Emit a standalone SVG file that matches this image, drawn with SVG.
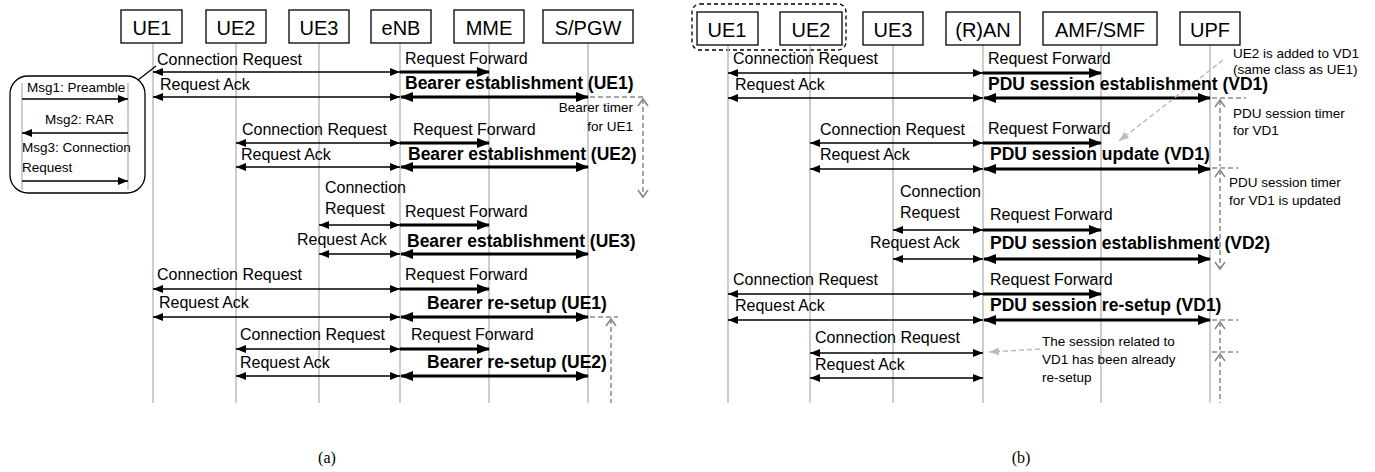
<svg xmlns="http://www.w3.org/2000/svg" width="1375" height="472" viewBox="0 0 1375 472">
<style>
.bg{fill:#fff}
.box{fill:#fff;stroke:#000;stroke-width:1.3}
.life{stroke:#bdbdbd;stroke-width:1.5}
.thin{stroke:#000;stroke-width:1.7;fill:none;marker-start:url(#ah);marker-end:url(#ah)}
.one{stroke:#000;stroke-width:1.6;fill:none;marker-end:url(#ah)}
.fw{stroke:#000;stroke-width:3;fill:none;marker-end:url(#ahb)}
.thick{stroke:#000;stroke-width:3;fill:none;marker-start:url(#ahb);marker-end:url(#ahb)}
.dash{stroke:#8a8a8a;stroke-width:1.5;stroke-dasharray:5 3;fill:none}
.up{marker-start:url(#chev)}
.both{marker-start:url(#chev);marker-end:url(#chev)}
.note{stroke:#bdbdbd;stroke-width:1.5;stroke-dasharray:5 3;fill:none;marker-end:url(#gah)}
.t{font-family:"Liberation Sans",Arial,sans-serif;font-size:16px;fill:#000}
.b{font-weight:bold;font-size:17.5px}
.s{font-size:13.5px}
.n{font-size:20px;text-anchor:middle}
.e{text-anchor:end}
.cap{font-family:"Liberation Serif","Times New Roman",serif;font-size:16px;text-anchor:middle}
</style>
<defs>
<marker id="ah" markerUnits="userSpaceOnUse" markerWidth="10" markerHeight="8" refX="10" refY="4" orient="auto-start-reverse"><path d="M0,0 L10,4 L0,8 z" fill="#000"/></marker>
<marker id="ahb" markerUnits="userSpaceOnUse" markerWidth="13" markerHeight="10" refX="12" refY="5" orient="auto-start-reverse"><path d="M0,0 L13,5 L0,10 z" fill="#000"/></marker>
<marker id="gah" markerUnits="userSpaceOnUse" markerWidth="10" markerHeight="8" refX="10" refY="4" orient="auto"><path d="M0,0 L10,4 L0,8 z" fill="#bdbdbd"/></marker>
<marker id="chev" markerUnits="userSpaceOnUse" markerWidth="12" markerHeight="12" refX="8" refY="6" orient="auto-start-reverse" overflow="visible"><path d="M1,1 L8,6 L1,11" fill="none" stroke="#8a8a8a" stroke-width="1.6"/></marker>
</defs>
<rect class="bg" x="0" y="0" width="1375" height="472"/>

<!-- Panel (a) participants -->
<g id="a-ue1"><line class="life" x1="153" y1="43" x2="153" y2="403"/><rect class="box" x="121" y="10" width="61" height="33"/><text class="t n" x="152" y="35">UE1</text></g>
<g id="a-ue2"><line class="life" x1="236" y1="43" x2="236" y2="403"/><rect class="box" x="206" y="10" width="60" height="33"/><text class="t n" x="236" y="35">UE2</text></g>
<g id="a-ue3"><line class="life" x1="319" y1="43" x2="319" y2="403"/><rect class="box" x="289" y="10" width="60" height="33"/><text class="t n" x="319" y="35">UE3</text></g>
<g id="a-enb"><line class="life" x1="400" y1="43" x2="400" y2="403"/><rect class="box" x="371" y="10" width="60" height="33"/><text class="t n" x="401" y="35">eNB</text></g>
<g id="a-mme"><line class="life" x1="489" y1="43" x2="489" y2="403"/><rect class="box" x="454" y="10" width="70" height="33"/><text class="t n" x="489" y="35">MME</text></g>
<g id="a-spgw"><line class="life" x1="588" y1="43" x2="588" y2="403"/><rect class="box" x="543" y="10" width="90" height="33"/><text class="t n" x="588" y="35">S/PGW</text></g>

<!-- RACH inset -->
<g id="a-rach">
<rect x="10" y="76" width="135" height="117" rx="18" fill="#fff" stroke="#000" stroke-width="1.3"/>
<line x1="138" y1="80" x2="156" y2="66" stroke="#000" stroke-width="1.2"/>
<line class="life" x1="22" y1="83" x2="22" y2="190"/>
<line class="life" x1="128" y1="83" x2="128" y2="190"/>
<text class="t s" x="27" y="92">Msg1: Preamble</text>
<line class="one" x1="22" y1="99" x2="128" y2="99"/>
<text class="t s" x="45" y="124">Msg2: RAR</text>
<line class="one" x1="128" y1="133" x2="22" y2="133"/>
<text class="t s" x="22" y="152">Msg3: Connection</text>
<text class="t s" x="22" y="172">Request</text>
<line class="one" x1="22" y1="181" x2="128" y2="181"/>
</g>

<!-- Panel (a) connectors -->
<g id="a-connectors">
<line class="thin" x1="153" y1="72" x2="400" y2="72"/><line class="fw" x1="400" y1="72" x2="489" y2="72"/>
<line class="thin" x1="153" y1="97" x2="400" y2="97"/><line class="thick" x1="401" y1="97" x2="588" y2="97"/>
<line class="thin" x1="236" y1="143" x2="400" y2="143"/><line class="fw" x1="400" y1="143" x2="489" y2="143"/>
<line class="thin" x1="236" y1="167" x2="400" y2="167"/><line class="thick" x1="401" y1="167" x2="588" y2="167"/>
<line class="thin" x1="319" y1="225" x2="400" y2="225"/><line class="fw" x1="400" y1="225" x2="489" y2="225"/>
<line class="thin" x1="319" y1="254" x2="400" y2="254"/><line class="thick" x1="401" y1="254" x2="588" y2="254"/>
<line class="thin" x1="153" y1="289" x2="400" y2="289"/><line class="fw" x1="400" y1="289" x2="489" y2="289"/>
<line class="thin" x1="153" y1="317" x2="400" y2="317"/><line class="thick" x1="401" y1="317" x2="588" y2="317"/>
<line class="thin" x1="236" y1="349" x2="400" y2="349"/><line class="fw" x1="400" y1="349" x2="489" y2="349"/>
<line class="thin" x1="236" y1="376" x2="400" y2="376"/><line class="thick" x1="401" y1="376" x2="588" y2="376"/>
<line class="dash" x1="590" y1="97" x2="646" y2="97"/>
<line class="dash both" x1="643" y1="99" x2="643" y2="197"/>
<line class="dash" x1="590" y1="317" x2="618" y2="317"/>
<line class="dash up" x1="611" y1="319" x2="611" y2="403"/>
</g>

<!-- Panel (a) labels -->
<g id="a-labels">
<text class="t" x="157" y="65">Connection Request</text>
<text class="t" x="405" y="64">Request Forward</text>
<text class="t" x="160" y="90">Request Ack</text>
<text class="t b" x="405" y="89">Bearer establishment (UE1)</text>
<text class="t s e" x="633" y="112">Bearer timer</text>
<text class="t s e" x="633" y="131">for UE1</text>
<text class="t" x="242" y="135">Connection Request</text>
<text class="t" x="413" y="135">Request Forward</text>
<text class="t" x="241" y="160">Request Ack</text>
<text class="t b" x="408" y="160">Bearer establishment (UE2)</text>
<text class="t" x="325" y="193">Connection</text>
<text class="t" x="325" y="214">Request</text>
<text class="t" x="405" y="217">Request Forward</text>
<text class="t" x="297" y="245">Request Ack</text>
<text class="t b" x="407" y="247">Bearer establishment (UE3)</text>
<text class="t" x="157" y="280">Connection Request</text>
<text class="t" x="405" y="280">Request Forward</text>
<text class="t" x="159" y="308">Request Ack</text>
<text class="t b" x="427" y="309">Bearer re-setup (UE1)</text>
<text class="t" x="240" y="340">Connection Request</text>
<text class="t" x="411" y="340">Request Forward</text>
<text class="t" x="240" y="368">Request Ack</text>
<text class="t b" x="427" y="368">Bearer re-setup (UE2)</text>
<text class="cap" x="327" y="463">(a)</text>
</g>

<!-- Panel (b) participants -->
<g id="b-group"><rect x="692" y="4" width="154" height="46" rx="8" fill="none" stroke="#000" stroke-width="1.3" stroke-dasharray="4 3"/></g>
<g id="b-ue1"><line class="life" x1="728" y1="45" x2="728" y2="403"/><rect class="box" x="697" y="12" width="61" height="33"/><text class="t n" x="727" y="37">UE1</text></g>
<g id="b-ue2"><line class="life" x1="810" y1="45" x2="810" y2="403"/><rect class="box" x="780" y="12" width="62" height="33"/><text class="t n" x="811" y="37">UE2</text></g>
<g id="b-ue3"><line class="life" x1="893" y1="45" x2="893" y2="403"/><rect class="box" x="863" y="12" width="60" height="33"/><text class="t n" x="893" y="37">UE3</text></g>
<g id="b-ran"><line class="life" x1="983" y1="45" x2="983" y2="403"/><rect class="box" x="946" y="12" width="74" height="33"/><text class="t n" x="983" y="37">(R)AN</text></g>
<g id="b-amf"><line class="life" x1="1101" y1="45" x2="1101" y2="403"/><rect class="box" x="1043" y="12" width="114" height="33"/><text class="t n" x="1100" y="37">AMF/SMF</text></g>
<g id="b-upf"><line class="life" x1="1210" y1="45" x2="1210" y2="403"/><rect class="box" x="1180" y="12" width="60" height="33"/><text class="t n" x="1210" y="37">UPF</text></g>

<!-- Panel (b) connectors -->
<g id="b-connectors">
<line class="thin" x1="728" y1="73" x2="983" y2="73"/><line class="fw" x1="983" y1="73" x2="1101" y2="73"/>
<line class="thin" x1="728" y1="98" x2="983" y2="98"/><line class="thick" x1="984" y1="98" x2="1210" y2="98"/>
<line class="thin" x1="810" y1="143" x2="983" y2="143"/><line class="fw" x1="983" y1="143" x2="1101" y2="143"/>
<line class="thin" x1="810" y1="169" x2="983" y2="169"/><line class="thick" x1="984" y1="169" x2="1210" y2="169"/>
<line class="thin" x1="893" y1="230" x2="983" y2="230"/><line class="fw" x1="983" y1="230" x2="1101" y2="230"/>
<line class="thin" x1="893" y1="259" x2="983" y2="259"/><line class="thick" x1="984" y1="259" x2="1210" y2="259"/>
<line class="thin" x1="728" y1="294" x2="983" y2="294"/><line class="fw" x1="983" y1="294" x2="1101" y2="294"/>
<line class="thin" x1="728" y1="320" x2="983" y2="320"/><line class="thick" x1="984" y1="320" x2="1210" y2="320"/>
<line class="thin" x1="810" y1="353" x2="983" y2="353"/>
<line class="thin" x1="810" y1="378" x2="983" y2="378"/>
<line class="dash" x1="1212" y1="98" x2="1246" y2="98"/>
<line class="dash up" x1="1220" y1="100" x2="1220" y2="166"/>
<line class="dash" x1="1212" y1="168" x2="1238" y2="168"/>
<line class="dash both" x1="1220" y1="170" x2="1220" y2="269"/>
<line class="dash" x1="1212" y1="320" x2="1238" y2="320"/>
<line class="dash up" x1="1220" y1="322" x2="1220" y2="350"/>
<line class="dash" x1="1212" y1="352" x2="1238" y2="352"/>
<line class="dash up" x1="1220" y1="354" x2="1220" y2="403"/>
<line class="note" x1="1223" y1="60" x2="1119" y2="141"/>
<line class="note" x1="1040" y1="349" x2="989" y2="352"/>
</g>

<!-- Panel (b) labels -->
<g id="b-labels">
<text class="t" x="733" y="64">Connection Request</text>
<text class="t" x="988" y="64">Request Forward</text>
<text class="t" x="735" y="90">Request Ack</text>
<text class="t b" x="988" y="90">PDU session establishment (VD1)</text>
<text class="t s" x="1233" y="58">UE2 is added to VD1</text>
<text class="t s" x="1233" y="74">(same class as UE1)</text>
<text class="t s" x="1233" y="118">PDU session timer</text>
<text class="t s" x="1233" y="135">for VD1</text>
<text class="t" x="820" y="135">Connection Request</text>
<text class="t" x="988" y="134">Request Forward</text>
<text class="t" x="820" y="160">Request Ack</text>
<text class="t b" x="990" y="160">PDU session update (VD1)</text>
<text class="t s" x="1229" y="187">PDU session timer</text>
<text class="t s" x="1229" y="205">for VD1 is updated</text>
<text class="t" x="900" y="197">Connection</text>
<text class="t" x="900" y="218">Request</text>
<text class="t" x="990" y="220">Request Forward</text>
<text class="t" x="870" y="248">Request Ack</text>
<text class="t b" x="990" y="249">PDU session establishment (VD2)</text>
<text class="t" x="733" y="285">Connection Request</text>
<text class="t" x="990" y="285">Request Forward</text>
<text class="t" x="735" y="311">Request Ack</text>
<text class="t b" x="990" y="311">PDU session re-setup (VD1)</text>
<text class="t" x="815" y="343">Connection Request</text>
<text class="t" x="815" y="370">Request Ack</text>
<text class="t s" x="1042" y="346">The session related to</text>
<text class="t s" x="1042" y="364">VD1 has been already</text>
<text class="t s" x="1042" y="382">re-setup</text>
<text class="cap" x="1021" y="463">(b)</text>
</g>
</svg>
